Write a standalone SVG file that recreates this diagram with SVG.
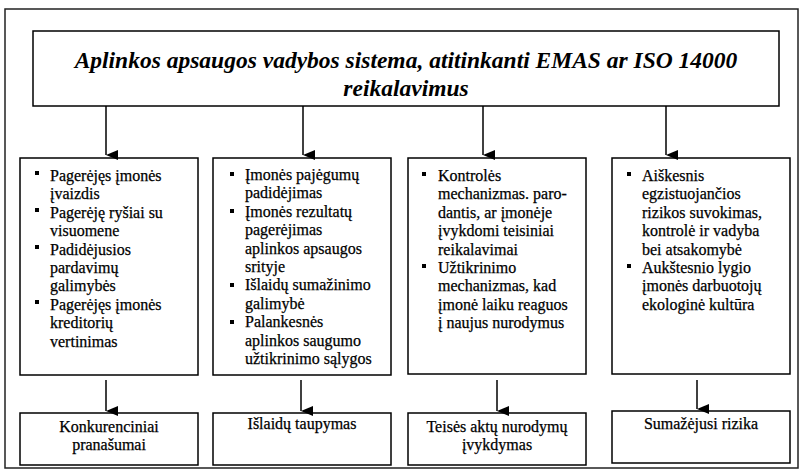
<svg xmlns="http://www.w3.org/2000/svg" width="803" height="470" viewBox="0 0 803 470">
<defs>
<marker id="ah" markerWidth="10" markerHeight="12" refX="5" refY="12" orient="auto" markerUnits="userSpaceOnUse" viewBox="0 0 10 12">
<path d="M0,0 L10,0 L5,12 Z" fill="#000"/>
</marker>
<style>
.box{fill:#fff;stroke:#000;stroke-width:1.5}
.frame{fill:#fff;stroke:#222;stroke-width:1.5}
.t{font-family:"Liberation Serif","Times New Roman",serif;font-size:16px;fill:#000;stroke:#000;stroke-width:0.25}
.c{text-anchor:middle}
.title{font-family:"Liberation Serif","Times New Roman",serif;font-size:23.5px;font-weight:bold;font-style:italic;text-anchor:middle;fill:#000}
.b{fill:#000}
.con line{stroke:#000;stroke-width:1.5;marker-end:url(#ah)}
</style>
</defs>
<rect class="frame" x="5" y="9" width="793" height="459"/>
<g id="title">
<rect class="box" x="33" y="31" width="746" height="75"/>
<text class="title" x="406" y="68">Aplinkos apsaugos vadybos sistema, atitinkanti EMAS ar ISO 14000</text>
<text class="title" x="406" y="96">reikalavimus</text>
</g>
<g id="box1">
<rect class="box" x="20" y="158" width="178" height="217"/>
<rect class="b" x="35" y="171" width="4" height="4"/><rect class="b" x="35" y="208" width="4" height="4"/><rect class="b" x="35" y="245" width="4" height="4"/><rect class="b" x="35" y="300" width="4" height="4"/>
<text class="t" x="50" y="181">Pagerėjęs įmonės</text>
<text class="t" x="50" y="199.4">įvaizdis</text>
<text class="t" x="50" y="217.8">Pagerėję ryšiai su</text>
<text class="t" x="50" y="236.2">visuomene</text>
<text class="t" x="50" y="254.6">Padidėjusios</text>
<text class="t" x="50" y="273">pardavimų</text>
<text class="t" x="50" y="291.4">galimybės</text>
<text class="t" x="50" y="309.8">Pagerėjęs įmonės</text>
<text class="t" x="50" y="328.2">kreditorių</text>
<text class="t" x="50" y="346.6">vertinimas</text>
</g>
<g id="box2">
<rect class="box" x="213" y="158" width="178" height="217"/>
<rect class="b" x="230" y="172" width="4" height="4"/><rect class="b" x="230" y="209" width="4" height="4"/><rect class="b" x="230" y="283" width="4" height="4"/><rect class="b" x="230" y="320" width="4" height="4"/>
<text class="t" x="245" y="180">Įmonės pajėgumų</text>
<text class="t" x="245" y="198.4">padidėjimas</text>
<text class="t" x="245" y="216.8">Įmonės rezultatų</text>
<text class="t" x="245" y="235.2">pagerėjimas</text>
<text class="t" x="245" y="253.6">aplinkos apsaugos</text>
<text class="t" x="245" y="272">srityje</text>
<text class="t" x="245" y="290.4">Išlaidų sumažinimo</text>
<text class="t" x="245" y="308.8">galimybė</text>
<text class="t" x="245" y="327.2">Palankesnės</text>
<text class="t" x="245" y="345.6">aplinkos saugumo</text>
<text class="t" x="245" y="364">užtikrinimo sąlygos</text>
</g>
<g id="box3">
<rect class="box" x="408" y="158" width="178" height="216"/>
<rect class="b" x="422" y="172" width="4" height="4"/><rect class="b" x="422" y="264" width="4" height="4"/>
<text class="t" x="438" y="181">Kontrolės</text>
<text class="t" x="438" y="199.4">mechanizmas. paro-</text>
<text class="t" x="438" y="217.8">dantis, ar įmonėje</text>
<text class="t" x="438" y="236.2">įvykdomi teisiniai</text>
<text class="t" x="438" y="254.6">reikalavimai</text>
<text class="t" x="438" y="273">Užtikrinimo</text>
<text class="t" x="438" y="291.4">mechanizmas, kad</text>
<text class="t" x="438" y="309.8">įmonė laiku reaguos</text>
<text class="t" x="438" y="328.2">į naujus nurodymus</text>
</g>
<g id="box4">
<rect class="box" x="612" y="158" width="178" height="216"/>
<rect class="b" x="627" y="172" width="4" height="4"/><rect class="b" x="627" y="264" width="4" height="4"/>
<text class="t" x="642" y="181">Aiškesnis</text>
<text class="t" x="642" y="199.4">egzistuojančios</text>
<text class="t" x="642" y="217.8">rizikos suvokimas,</text>
<text class="t" x="642" y="236.2">kontrolė ir vadyba</text>
<text class="t" x="642" y="254.6">bei atsakomybė</text>
<text class="t" x="642" y="273">Aukštesnio lygio</text>
<text class="t" x="642" y="291.4">įmonės darbuotojų</text>
<text class="t" x="642" y="309.8">ekologinė kultūra</text>
</g>
<g id="out1">
<rect class="box" x="20" y="413" width="178" height="52"/>
<text class="t c" x="109" y="432">Konkurenciniai</text>
<text class="t c" x="109" y="450">pranašumai</text>
</g>
<g id="out2">
<rect class="box" x="213" y="413" width="178" height="52"/>
<text class="t c" x="302" y="429">Išlaidų taupymas</text>
</g>
<g id="out3">
<rect class="box" x="408" y="413" width="178" height="52"/>
<text class="t c" x="497" y="432">Teisės aktų nurodymų</text>
<text class="t c" x="497" y="450">įvykdymas</text>
</g>
<g id="out4">
<rect class="box" x="612" y="411" width="178" height="52"/>
<text class="t c" x="701" y="429">Sumažėjusi rizika</text>
</g>
<g id="connectors" class="con">
<line x1="106" y1="106" x2="106" y2="155"/>
<line x1="303" y1="106" x2="303" y2="155"/>
<line x1="483" y1="106" x2="483" y2="155"/>
<line x1="666" y1="106" x2="666" y2="155"/>
<line x1="106" y1="380" x2="106" y2="411"/>
<line x1="301" y1="380" x2="301" y2="411"/>
<line x1="497" y1="380" x2="497" y2="411"/>
<line x1="697" y1="380" x2="697" y2="409"/>
</g>
</svg>
